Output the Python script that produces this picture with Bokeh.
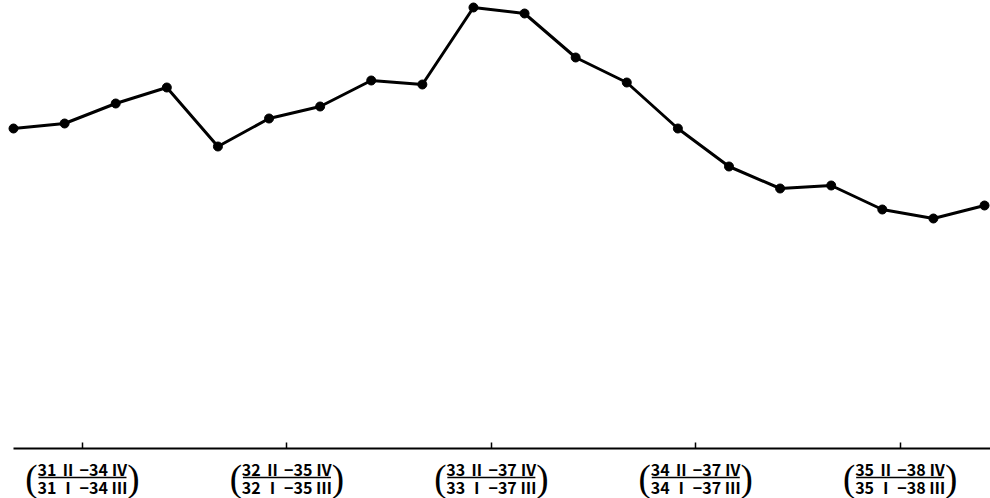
from bokeh.plotting import figure
from bokeh.models import LinearAxis, FixedTicker, Range1d, ColumnDataSource
from bokeh.core.properties import value
from bokeh.embed import file_html
from bokeh.resources import INLINE

# ---- data ----
quarters = list(range(20))
values = [3.20, 3.25, 3.45, 3.61, 3.02, 3.30, 3.42, 3.68, 3.64, 4.41,
          4.35, 3.91, 3.66, 3.20, 2.82, 2.60, 2.63, 2.39, 2.30, 2.43]
tick_pos = [1.35, 5.35, 9.35, 13.35, 17.35]
label_num = ["31 Ⅱ −34 Ⅳ", "32 Ⅱ −35 Ⅳ", "33 Ⅱ −37 Ⅳ", "34 Ⅱ −37 Ⅳ", "35 Ⅱ −38 Ⅳ"]
label_den = ["31 Ⅰ −34 Ⅲ", "32 Ⅰ −35 Ⅲ", "33 Ⅰ −37 Ⅲ", "34 Ⅰ −37 Ⅲ", "35 Ⅰ −38 Ⅲ"]

W, H = 990, 498
p = figure(width=W, height=H, output_backend="svg", toolbar_location=None,
           x_axis_location=None, y_axis_location=None,
           x_range=Range1d(-0.2544, 19.117), y_range=Range1d(-0.50, 4.48),
           min_border=0, min_border_left=0, min_border_right=0,
           min_border_top=0, min_border_bottom=0)
p.outline_line_color = None
p.xgrid.visible = False
p.ygrid.visible = False
p.background_fill_color = "white"
p.border_fill_color = "white"

axis = LinearAxis(fixed_location=0, ticker=FixedTicker(ticks=tick_pos))
axis.bounds = (0, 19.2)
axis.axis_line_color = "black"
axis.axis_line_width = 2
axis.major_tick_in = 6
axis.major_tick_out = 0
axis.major_tick_line_width = 1.5
axis.minor_tick_line_color = None
axis.major_label_overrides = {t: "" for t in tick_pos}
axis.major_label_standoff = 0
p.add_layout(axis, "below")

p.line(quarters, values, line_color="black", line_width=3)
p.scatter(quarters, values, size=9, fill_color="black", line_color="black")

src = ColumnDataSource(dict(x=tick_pos, num=label_num, den=label_den,
                            lp=["("] * len(tick_pos), rp=[")"] * len(tick_pos)))
font = value("Noto Sans CJK JP")
p.text(x="x", y=-0.205, text="num", source=src, text_font=font,
       text_font_size="16px", text_font_style="bold", text_align="center",
       text_baseline="middle", text_color="black")
p.text(x="x", y=-0.385, text="den", source=src, text_font=font,
       text_font_size="16px", text_font_style="bold", text_align="center",
       text_baseline="middle", text_color="black")
p.rect(x="x", y=-0.29, width=88, height=1.4, width_units="screen",
       height_units="screen", source=src, fill_color="black", line_color=None)
p.text(x="x", y=-0.295, text="lp", source=src, x_offset=-51,
       text_font=value("Liberation Serif"), text_font_size="37px",
       text_align="center", text_baseline="middle", text_color="black")
p.text(x="x", y=-0.295, text="rp", source=src, x_offset=51,
       text_font=value("Liberation Serif"), text_font_size="37px",
       text_align="center", text_baseline="middle", text_color="black")

open("out.html", "w").write(file_html(p, INLINE))
